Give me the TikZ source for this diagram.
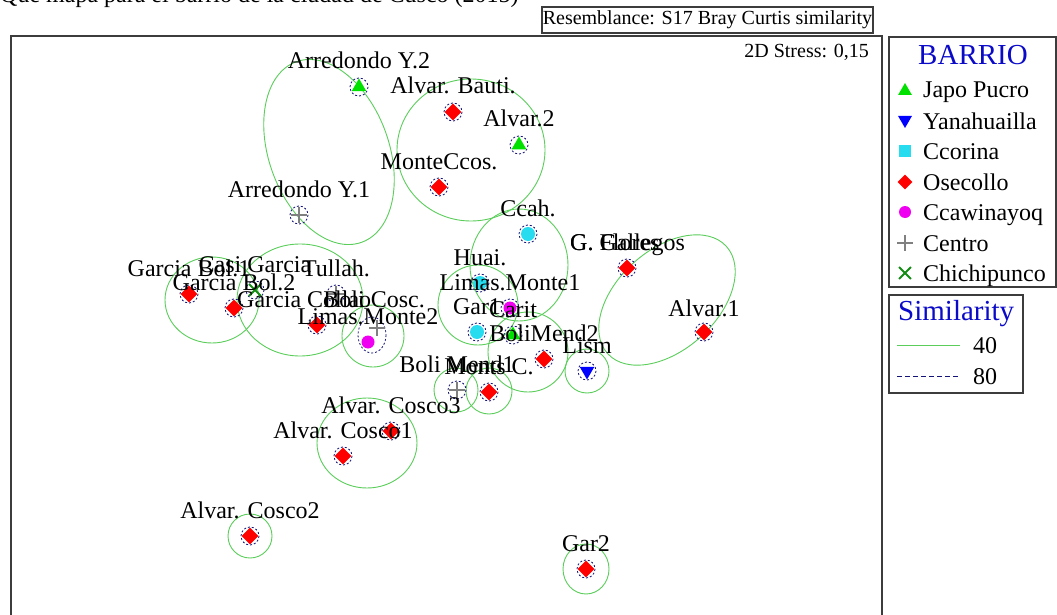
\documentclass[tikz,border=0pt]{standalone}
\usepackage{fontspec}
\setmainfont{Liberation Serif}
\usetikzlibrary{shapes.geometric,shapes.misc}
\definecolor{ellg}{RGB}{90,205,90}
\definecolor{trig}{RGB}{0,225,0}
\definecolor{cyn}{RGB}{40,220,240}
\definecolor{mag}{RGB}{240,0,240}
\definecolor{nav}{RGB}{20,20,120}
\definecolor{chg}{RGB}{20,140,20}
\definecolor{legblue}{RGB}{10,10,200}
\definecolor{frm}{RGB}{60,60,60}
\tikzset{
  lbl/.style={font=\fontsize{24}{24}\selectfont, anchor=base, inner sep=0pt},
  sim40/.style={draw=ellg, line width=0.9pt},
  sim80/.style={draw=nav, line width=0.8pt, dash pattern=on 2pt off 2pt},
  osec/.style={diamond, fill=red, inner sep=0pt, minimum size=17pt},
  japo/.style={regular polygon, regular polygon sides=3, fill=trig, inner sep=0pt, minimum size=17pt},
  yana/.style={regular polygon, regular polygon sides=3, shape border rotate=180, fill=blue, inner sep=0pt, minimum size=17pt},
  ccor/.style={circle, fill=cyn, inner sep=0pt, minimum size=14pt},
  ccaw/.style={circle, fill=mag, inner sep=0pt, minimum size=13pt},
  chich/.style={cross out, draw=chg, line width=1.8pt, inner sep=0pt, minimum size=10pt},
  centromark/.pic={\draw[gray, line width=1.8pt] (-8,0)--(8,0) (0,-8)--(0,8);},
  framebox/.style={draw=frm, line width=1.1pt},
  legtxt/.style={font=\fontsize{24}{24}\selectfont, anchor=base west, inner sep=0pt},
  legtitle/.style={font=\fontsize{29}{29}\selectfont, text=legblue, inner sep=0pt}
}
\begin{document}
\begin{tikzpicture}[x=1pt,y=-1pt]
\useasboundingbox (0,0) rectangle (1057,615);
\begin{scope}
\clip (0,0) rectangle (1057,615);
% cut-off title
\node[font=\fontsize{24}{24}\selectfont, anchor=base west, inner sep=0pt] (title) at (0,3) {Qué mapa para el barrio de la ciudad de Cusco (2015)};
% frames
\draw[framebox] (11,36) rectangle (882,630);
\node[framebox, draw, minimum width=331pt, minimum height=26pt, inner sep=0pt, font=\fontsize{20}{20}\selectfont] (res) at (707.5,20) {Resemblance: S17 Bray Curtis similarity};
\node[font=\fontsize{20}{20}\selectfont, anchor=base east, inner sep=0pt] (stress) at (869,58) {2D Stress: 0,15};
\end{scope}

% point coordinates
\coordinate (ay2) at (359,87);
\coordinate (ab) at (453,112);
\coordinate (a2) at (519,145);
\coordinate (mc) at (439,187);
\coordinate (ay1) at (299,215);
\coordinate (ccah) at (528,234);
\coordinate (gg) at (627,268);
\coordinate (a1) at (704,332);
\coordinate (huai) at (480,283);
\coordinate (lm1) at (510,308);
\coordinate (gar1) at (477,332);
\coordinate (carit) at (513,335);
\coordinate (bm2) at (544,359);
\coordinate (lism) at (587,371);
\coordinate (bm1) at (457,390);
\coordinate (monts) at (489,392);
\coordinate (ac3) at (391,431);
\coordinate (ac1) at (343,456);
\coordinate (ac2) at (250,536);
\coordinate (gar2) at (586,569);
\coordinate (gb1) at (189,294);
\coordinate (gb2) at (234,308);
\coordinate (casi) at (255,290);
\coordinate (tull) at (336,294);
\coordinate (gc) at (317,325);
\coordinate (bcos) at (377,328);
\coordinate (lm2) at (368,342);

% 40% similarity ellipses
\draw[sim40, rotate around={-70:(329,152)}] (329,152) ellipse [x radius=96, y radius=60];
\draw[sim40] (471,150) ellipse [x radius=74, y radius=71];
\draw[sim40] (519,265) ellipse [x radius=49, y radius=56];
\draw[sim40] (478,305) circle [radius=40];
\draw[sim40] (528,352) circle [radius=40];
\draw[sim40] (lism) circle [radius=22];
\draw[sim40, rotate around={42:(667,300)}] (667,300) ellipse [x radius=80, y radius=50];
\draw[sim40] (212,300) ellipse [x radius=47, y radius=43];
\draw[sim40] (300,300) ellipse [x radius=63, y radius=56];
\draw[sim40] (373,336) circle [radius=31];
\draw[sim40] (456,390) circle [radius=22];
\draw[sim40] (489,391) circle [radius=23];
\draw[sim40] (367,443) ellipse [x radius=50, y radius=45];
\draw[sim40] (ac2) circle [radius=22];
\draw[sim40] (gar2) ellipse [x radius=23, y radius=25];

% 80% similarity circles
\foreach \p in {ay2,ab,a2,mc,ay1,ccah,gg,a1,huai,lm1,gar1,carit,bm2,lism,bm1,monts,ac3,ac1,ac2,gar2,gb1,gb2,casi,tull,gc}
  \draw[sim80] (\p) circle [radius=9];
\draw[sim80] (372,335) ellipse [x radius=14, y radius=18];

% markers
\node[japo] (m-ay2) at (ay2) {};
\node[osec] (m-ab) at (ab) {};
\node[japo] (m-a2) at (a2) {};
\node[osec] (m-mc) at (mc) {};
\pic at (ay1) {centromark};
\node[ccor] (m-ccah) at (ccah) {};
\node[osec] (m-gg) at (gg) {};
\node[osec] (m-a1) at (a1) {};
\node[ccor] (m-huai) at (huai) {};
\node[ccaw] (m-lm1) at (lm1) {};
\node[ccor] (m-gar1) at (gar1) {};
\node[japo] (m-carit) at (carit) {};
\node[osec] (m-bm2) at (bm2) {};
\node[yana] (m-lism) at (lism) {};
\pic at (bm1) {centromark};
\node[osec] (m-monts) at (monts) {};
\node[osec] (m-ac3) at (ac3) {};
\node[osec] (m-ac1) at (ac1) {};
\node[osec] (m-ac2) at (ac2) {};
\node[osec] (m-gar2) at (gar2) {};
\node[osec] (m-gb1) at (gb1) {};
\node[osec] (m-gb2) at (gb2) {};
\node[chich] (m-casi) at (casi) {};
\pic at (tull) {centromark};
\node[osec] (m-gc) at (gc) {};
\pic at (bcos) {centromark};
\node[ccaw] (m-lm2) at (lm2) {};

% labels
\node[lbl] (l-ay2) at (359,69) {Arredondo Y.2};
\node[lbl] (l-ab) at (453,94) {Alvar. Bauti.};
\node[lbl] (l-a2) at (519,127) {Alvar.2};
\node[lbl] (l-mc) at (439,169) {MonteCcos.};
\node[lbl] (l-ay1) at (299,197) {Arredondo Y.1};
\node[lbl] (l-ccah) at (528,216) {Ccah.};
\node[lbl, anchor=base west] (l-gf) at (570,250) {G. Flores};
\node[lbl, anchor=base west] (l-gg) at (570,250) {G. Gallegos};
\node[lbl] (l-a1) at (704,316) {Alvar.1};
\node[lbl] (l-huai) at (480,265) {Huai.};
\node[lbl] (l-lm1) at (510,290) {Limas.Monte1};
\node[lbl] (l-gar1) at (477,314) {Gar1};
\node[lbl] (l-carit) at (513,317) {Carit};
\node[lbl] (l-bm2) at (544,341) {BoliMend2};
\node[lbl] (l-lism) at (587,353) {Lism};
\node[lbl] (l-bm1) at (457,372) {Boli Mend1};
\node[lbl] (l-monts) at (489,374) {Monts C.};
\node[lbl] (l-ac3) at (391,413) {Alvar. Cosco3};
\node[lbl] (l-ac1) at (343,438) {Alvar. Cosco1};
\node[lbl] (l-ac2) at (250,518) {Alvar. Cosco2};
\node[lbl] (l-gar2) at (586,551) {Gar2};
\node[lbl] (l-gb1) at (189,276) {Garcia Bol.1};
\node[lbl] (l-gb2) at (234,290) {Garcia Bol.2};
\node[lbl] (l-casi) at (255,272) {Casi Garcia};
\node[lbl] (l-tull) at (336,276) {Tullah.};
\node[lbl, anchor=base west] (l-gc) at (237,307) {Garcia Collao};
\node[lbl, anchor=base east] (l-bcos) at (425,307) {Boli Cosc.};
\node[lbl] (l-lm2) at (368,324) {Limas.Monte2};

% legend BARRIO
\draw[framebox] (889,37) rectangle (1056,287);
\node[legtitle, anchor=base] (barrio) at (973,65) {BARRIO};
\node[japo, minimum size=16pt] (k1) at (905,91) {};
\node[yana, minimum size=16pt] (k2) at (905,120) {};
\node[rectangle, fill=cyn, minimum size=12pt, inner sep=0pt] (k3) at (905,151) {};
\node[diamond, fill=red, minimum size=15pt, inner sep=0pt] (k4) at (905,182) {};
\node[circle, fill=mag, minimum size=12pt, inner sep=0pt] (k5) at (905,212) {};
\pic at (905,243) {centromark};
\node[chich] (k7) at (905,273) {};
\node[legtxt] (t1) at (923,98) {Japo Pucro};
\node[legtxt] (t2) at (923,129) {Yanahuailla};
\node[legtxt] (t3) at (923,159) {Ccorina};
\node[legtxt] (t4) at (923,190) {Osecollo};
\node[legtxt] (t5) at (923,220) {Ccawinayoq};
\node[legtxt] (t6) at (923,251) {Centro};
\node[legtxt] (t7) at (923,281) {Chichipunco};

% legend Similarity
\draw[framebox] (889,295) rectangle (1023,393);
\node[legtitle, anchor=base west] (simt) at (898,320) {Similarity};
\coordinate (s40a) at (897,345); \coordinate (s40b) at (960,345);
\coordinate (s80a) at (897,376); \coordinate (s80b) at (960,376);
\draw[sim40] (s40a) -- (s40b);
\draw[sim80, dash pattern=on 5pt off 3pt] (s80a) -- (s80b);
\node[legtxt] (t40) at (973,353) {40};
\node[legtxt] (t80) at (973,384) {80};
\end{tikzpicture}
\end{document}
